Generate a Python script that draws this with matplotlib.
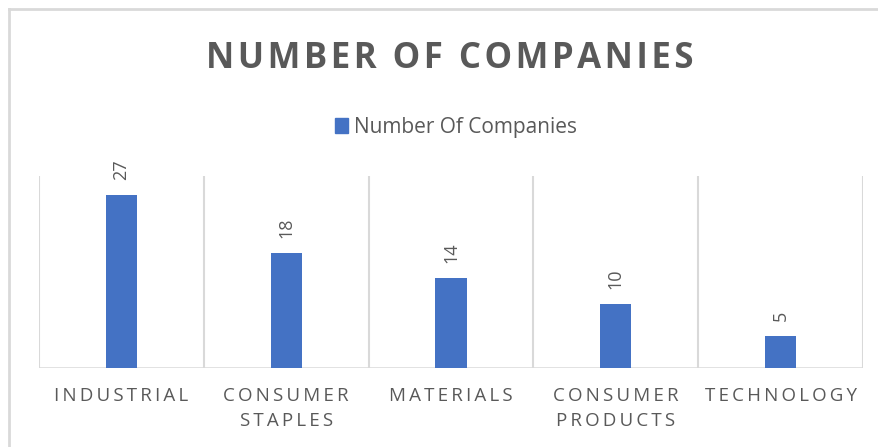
import matplotlib.pyplot as plt
from matplotlib.patches import Rectangle
from matplotlib.lines import Line2D

sectors = ['INDUSTRIAL', 'CONSUMER\nSTAPLES', 'MATERIALS', 'CONSUMER\nPRODUCTS', 'TECHNOLOGY']
companies = [27, 18, 14, 10, 5]
series_name = 'Number Of Companies'
chart_title = 'NUMBER OF COMPANIES'

BLUE = '#4472C4'
GRAY = '#595959'
GRID = '#d9d9d9'
FONTS = ['Open Sans', 'DejaVu Sans']


def spaced(text, gap='\u2009'):
    # Excel-style letter spacing, line by line
    return '\n'.join(gap.join(line) for line in text.split('\n'))


fig = plt.figure(figsize=(8.79, 4.47), dpi=100)
ax = fig.add_axes([39 / 879, 1 - 368 / 447, (863 - 39) / 879, (368 - 176) / 447])

x = list(range(len(sectors)))
bars = ax.bar(x, companies, width=0.19, color=BLUE, zorder=3)

for b, v in zip(bars, companies):
    ax.annotate(str(v), (b.get_x() + b.get_width() / 2, v), xytext=(0, 11),
                textcoords='offset points', rotation=90, ha='center', va='bottom',
                fontsize=13, color=GRAY, family=FONTS)

# separators between categories
for pos in [i - 0.5 for i in range(len(sectors) + 1)]:
    ax.axvline(pos, color=GRID, linewidth=1.5, zorder=1)
ax.axhline(0, color=GRID, linewidth=1.8, zorder=2)

ax.set_xlim(-0.5, len(sectors) - 0.5)
ax.set_ylim(0, 30)
for s in ax.spines.values():
    s.set_visible(False)
ax.set_yticks([])
ax.set_xticks(x)
ax.set_xticklabels([spaced(s) for s in sectors], fontsize=13.5, color=GRAY,
                   family=FONTS, linespacing=1.55)
ax.tick_params(axis='x', length=0, pad=13.5)

fig.text(450 / 879, 1 - 59 / 447, spaced(chart_title, '\u200a'), ha='center', va='center',
         fontsize=25, fontweight='bold', color=GRAY, family=FONTS)

handle = Rectangle((0, 0), 1, 1, color=BLUE)
fig.legend([handle], [series_name], loc='center', bbox_to_anchor=(456 / 879, 1 - 127 / 447),
           frameon=False, labelcolor=GRAY, handlelength=0.65, handleheight=0.75,
           handletextpad=0.3, prop={'family': FONTS, 'size': 15})

# chart frame (top and left edges fall inside the image)
fig.add_artist(Line2D([9 / 879, 1], [1 - 9 / 447, 1 - 9 / 447], color=GRID, linewidth=2,
                      transform=fig.transFigure))
fig.add_artist(Line2D([9 / 879, 9 / 879], [0, 1 - 9 / 447], color=GRID, linewidth=2,
                      transform=fig.transFigure))

fig.savefig('out.png', dpi=100, facecolor='white')
